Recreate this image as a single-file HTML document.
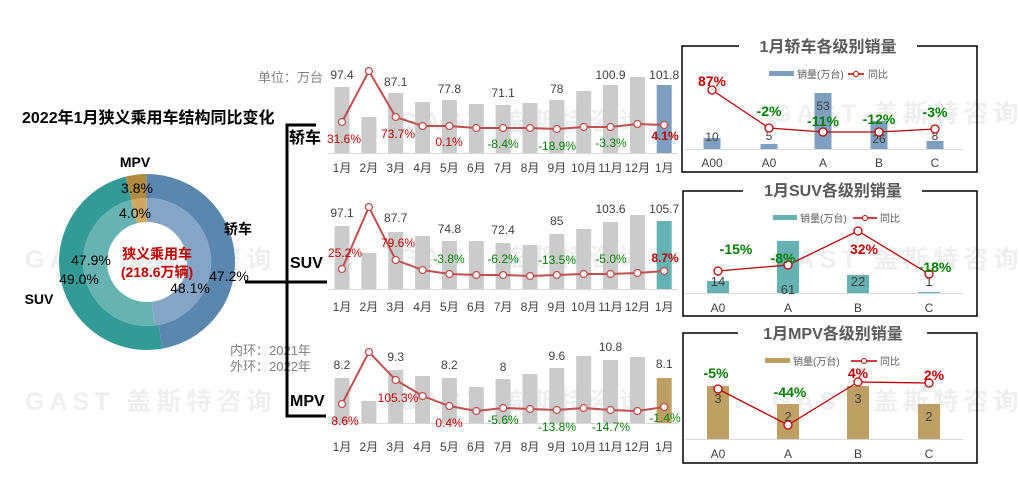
<!DOCTYPE html>
<html><head><meta charset="utf-8"><style>
body{margin:0;background:#fff;width:1019px;height:504px;overflow:hidden}
svg{display:block;font-family:"Liberation Sans","Noto Sans CJK SC",sans-serif}
.m{font-size:12px;fill:#404040;text-anchor:middle}
.v{font-size:12px;fill:#404040;text-anchor:middle}
.r{font-size:12px;fill:#c00000;text-anchor:middle}
.g{font-size:12px;fill:#008000;text-anchor:middle}
.b{fill:#cbcbcb}
.ln{fill:none;stroke:#c0504d;stroke-width:2}
.mk{fill:#fff;stroke:#c0504d;stroke-width:1.3}
.wm{font-size:25px;font-weight:bold;fill:#efefef;letter-spacing:5px}
.t{font-size:16px;font-weight:bold;fill:#595959;text-anchor:middle}
.lg{font-size:10px;fill:#595959}
.rr{font-size:14px;font-weight:bold;fill:#c00000;text-anchor:middle}
.rg{font-size:14px;font-weight:bold;fill:#008000;text-anchor:middle}
.c{font-size:12px;fill:#404040;text-anchor:middle}
.cv{font-size:13px;fill:#404040;text-anchor:middle}
</style></head><body>
<svg width="1019" height="504" viewBox="0 0 1019 504">
<!-- watermarks -->
<text class="wm" x="25" y="268">GAST 盖斯特咨询</text>
<text class="wm" x="25" y="410">GAST 盖斯特咨询</text>
<text class="wm" x="398" y="130">GAST 盖斯特咨询</text>
<text class="wm" x="398" y="266">GAST 盖斯特咨询</text>
<text class="wm" x="398" y="410">GAST 盖斯特咨询</text>
<text class="wm" x="772" y="122">GAST 盖斯特咨询</text>
<text class="wm" x="772" y="268">GAST 盖斯特咨询</text>
<text class="wm" x="772" y="410">GAST 盖斯特咨询</text>

<!-- left title -->
<text x="22" y="123" font-size="16" font-weight="bold" fill="#000">2022年1月狭义乘用车结构同比变化</text>

<!-- donut -->
<g transform="rotate(-90 147 262)">
<circle cx="147" cy="262" r="76" fill="none" stroke="#5b86ae" stroke-width="24" pathLength="100" stroke-dasharray="47.2 52.8"/>
<circle cx="147" cy="262" r="76" fill="none" stroke="#339a96" stroke-width="24" pathLength="100" stroke-dasharray="0 47.2 49 3.8"/>
<circle cx="147" cy="262" r="76" fill="none" stroke="#b08a3e" stroke-width="24" pathLength="100" stroke-dasharray="0 96.2 3.8 0"/>
<circle cx="147" cy="262" r="52" fill="none" stroke="#84a5c5" stroke-width="24" pathLength="100" stroke-dasharray="48.1 51.9"/>
<circle cx="147" cy="262" r="52" fill="none" stroke="#66b3b1" stroke-width="24" pathLength="100" stroke-dasharray="0 48.1 47.9 4"/>
<circle cx="147" cy="262" r="52" fill="none" stroke="#cfa962" stroke-width="24" pathLength="100" stroke-dasharray="0 96 4 0"/>
</g>
<g font-size="14" fill="#000" text-anchor="middle">
<text x="135" y="167" font-weight="bold">MPV</text>
<text x="137" y="193">3.8%</text>
<text x="135" y="218">4.0%</text>
<text x="238" y="234" font-weight="bold">轿车</text>
<text x="91" y="265">47.9%</text>
<text x="79" y="284">49.0%</text>
<text x="39" y="304" font-weight="bold">SUV</text>
<text x="229" y="281">47.2%</text>
<text x="190" y="293">48.1%</text>
</g>
<text x="157" y="259" font-size="14" font-weight="bold" fill="#c00000" text-anchor="middle">狭义乘用车</text>
<text x="157" y="277" font-size="14" font-weight="bold" fill="#c00000" text-anchor="middle">(218.6万辆)</text>
<text x="230" y="355" font-size="13" fill="#808080">内环：2021年</text>
<text x="230" y="371" font-size="13" fill="#808080">外环：2022年</text>

<!-- bracket -->
<g stroke="#000" stroke-width="3" fill="none">
<path d="M316 125 H287 V416 H326"/>
<path d="M245 282 H327"/>
</g>
<g font-size="16" font-weight="bold" fill="#000">
<text x="289" y="143">轿车</text>
<text x="290" y="268">SUV</text>
<text x="290" y="406">MPV</text>
</g>
<text x="258" y="82" font-size="13" fill="#808080">单位：万台</text>

<!-- sedan chart -->
<g>
<rect class="b" x="334.5" y="87" width="15" height="66"/>
<rect class="b" x="361.4" y="117" width="15" height="36"/>
<rect class="b" x="388.2" y="93" width="15" height="60"/>
<rect class="b" x="415.1" y="102" width="15" height="51"/>
<rect class="b" x="441.9" y="100" width="15" height="53"/>
<rect class="b" x="468.8" y="104" width="15" height="49"/>
<rect class="b" x="495.6" y="105" width="15" height="48"/>
<rect class="b" x="522.5" y="103" width="15" height="50"/>
<rect class="b" x="549.3" y="100" width="15" height="53"/>
<rect class="b" x="576.2" y="91" width="15" height="62"/>
<rect class="b" x="603" y="85" width="15" height="68"/>
<rect class="b" x="629.9" y="77" width="15" height="76"/>
<rect x="656.7" y="85" width="15" height="68" fill="#7f9fc0"/>
<line x1="328" y1="153.5" x2="678" y2="153.5" stroke="#d9d9d9"/>
<polyline class="ln" points="342,122 368.9,71 395.7,117 422.6,126 449.4,126 476.3,128 503.1,128 530,128 556.8,129 583.7,127 610.5,127 637.4,124 664.2,125"/>
<g class="mk"><circle cx="342" cy="122" r="3.5"/><circle cx="368.9" cy="71" r="3.5"/><circle cx="395.7" cy="117" r="3.5"/><circle cx="422.6" cy="126" r="3.5"/><circle cx="449.4" cy="126" r="3.5"/><circle cx="476.3" cy="128" r="3.5"/><circle cx="503.1" cy="128" r="3.5"/><circle cx="530" cy="128" r="3.5"/><circle cx="556.8" cy="129" r="3.5"/><circle cx="583.7" cy="127" r="3.5"/><circle cx="610.5" cy="127" r="3.5"/><circle cx="637.4" cy="124" r="3.5"/><circle cx="664.2" cy="125" r="3.5"/></g>
<text class="v" x="342" y="79">97.4</text><text class="v" x="395.7" y="86">87.1</text><text class="v" x="449.4" y="93">77.8</text><text class="v" x="503.1" y="97">71.1</text><text class="v" x="556.8" y="93">78</text><text class="v" x="610.5" y="79">100.9</text><text class="v" x="664.2" y="79">101.8</text>
<text class="r" x="344" y="143">31.6%</text><text class="r" x="398" y="138">73.7%</text><text class="r" x="449" y="146">0.1%</text><text class="g" x="503" y="148">-8.4%</text><text class="g" x="557" y="150">-18.9%</text><text class="g" x="611" y="147">-3.3%</text><text class="r" x="665" y="140" font-weight="bold">4.1%</text>
<g class="m"><text x="342" y="172">1月</text><text x="368.9" y="172">2月</text><text x="395.7" y="172">3月</text><text x="422.6" y="172">4月</text><text x="449.4" y="172">5月</text><text x="476.3" y="172">6月</text><text x="503.1" y="172">7月</text><text x="530" y="172">8月</text><text x="556.8" y="172">9月</text><text x="583.7" y="172">10月</text><text x="610.5" y="172">11月</text><text x="637.4" y="172">12月</text><text x="664.2" y="172">1月</text></g>
</g>

<!-- SUV chart -->
<g>
<rect class="b" x="334.5" y="226" width="15" height="63"/>
<rect class="b" x="361.4" y="253" width="15" height="36"/>
<rect class="b" x="388.2" y="232" width="15" height="57"/>
<rect class="b" x="415.1" y="236" width="15" height="53"/>
<rect class="b" x="441.9" y="241" width="15" height="48"/>
<rect class="b" x="468.8" y="241" width="15" height="48"/>
<rect class="b" x="495.6" y="243" width="15" height="46"/>
<rect class="b" x="522.5" y="245" width="15" height="44"/>
<rect class="b" x="549.3" y="234" width="15" height="55"/>
<rect class="b" x="576.2" y="229" width="15" height="60"/>
<rect class="b" x="603" y="222" width="15" height="67"/>
<rect class="b" x="629.9" y="215" width="15" height="74"/>
<rect x="656.7" y="221" width="15" height="68" fill="#66b2b2"/>
<line x1="328" y1="289.5" x2="678" y2="289.5" stroke="#d9d9d9"/>
<polyline class="ln" points="342,269 368.9,207 395.7,260 422.6,270 449.4,274 476.3,275 503.1,275 530,276 556.8,275 583.7,274 610.5,274 637.4,273 664.2,271"/>
<g class="mk"><circle cx="342" cy="269" r="3.5"/><circle cx="368.9" cy="207" r="3.5"/><circle cx="395.7" cy="260" r="3.5"/><circle cx="422.6" cy="270" r="3.5"/><circle cx="449.4" cy="274" r="3.5"/><circle cx="476.3" cy="275" r="3.5"/><circle cx="503.1" cy="275" r="3.5"/><circle cx="530" cy="276" r="3.5"/><circle cx="556.8" cy="275" r="3.5"/><circle cx="583.7" cy="274" r="3.5"/><circle cx="610.5" cy="274" r="3.5"/><circle cx="637.4" cy="273" r="3.5"/><circle cx="664.2" cy="271" r="3.5"/></g>
<text class="v" x="342" y="217">97.1</text><text class="v" x="395.7" y="222">87.7</text><text class="v" x="449.4" y="233">74.8</text><text class="v" x="503.1" y="234">72.4</text><text class="v" x="556.8" y="225">85</text><text class="v" x="610.5" y="213">103.6</text><text class="v" x="664.2" y="213">105.7</text>
<text class="r" x="345" y="257">25.2%</text><text class="r" x="398" y="247">79.6%</text><text class="g" x="449" y="263">-3.8%</text><text class="g" x="503" y="263">-6.2%</text><text class="g" x="557" y="264">-13.5%</text><text class="g" x="611" y="263">-5.0%</text><text class="r" x="665" y="262" font-weight="bold">8.7%</text>
<g class="m"><text x="342" y="311">1月</text><text x="368.9" y="311">2月</text><text x="395.7" y="311">3月</text><text x="422.6" y="311">4月</text><text x="449.4" y="311">5月</text><text x="476.3" y="311">6月</text><text x="503.1" y="311">7月</text><text x="530" y="311">8月</text><text x="556.8" y="311">9月</text><text x="583.7" y="311">10月</text><text x="610.5" y="311">11月</text><text x="637.4" y="311">12月</text><text x="664.2" y="311">1月</text></g>
</g>

<!-- MPV chart -->
<g>
<rect class="b" x="334.5" y="378" width="15" height="45"/>
<rect class="b" x="361.4" y="401" width="15" height="22"/>
<rect class="b" x="388.2" y="370" width="15" height="53"/>
<rect class="b" x="415.1" y="376" width="15" height="47"/>
<rect class="b" x="441.9" y="378" width="15" height="45"/>
<rect class="b" x="468.8" y="387" width="15" height="36"/>
<rect class="b" x="495.6" y="379" width="15" height="44"/>
<rect class="b" x="522.5" y="374" width="15" height="49"/>
<rect class="b" x="549.3" y="368" width="15" height="55"/>
<rect class="b" x="576.2" y="356" width="15" height="67"/>
<rect class="b" x="603" y="360" width="15" height="63"/>
<rect class="b" x="629.9" y="357" width="15" height="66"/>
<rect x="656.7" y="378" width="15" height="45" fill="#bfa064"/>
<line x1="328" y1="423.5" x2="678" y2="423.5" stroke="#d9d9d9"/>
<polyline class="ln" points="342,404 368.9,352 395.7,380 422.6,396 449.4,406 476.3,411 503.1,408 530,409 556.8,410 583.7,408 610.5,410 637.4,411 664.2,407"/>
<g class="mk"><circle cx="342" cy="404" r="3.5"/><circle cx="368.9" cy="352" r="3.5"/><circle cx="395.7" cy="380" r="3.5"/><circle cx="422.6" cy="396" r="3.5"/><circle cx="449.4" cy="406" r="3.5"/><circle cx="476.3" cy="411" r="3.5"/><circle cx="503.1" cy="408" r="3.5"/><circle cx="530" cy="409" r="3.5"/><circle cx="556.8" cy="410" r="3.5"/><circle cx="583.7" cy="408" r="3.5"/><circle cx="610.5" cy="410" r="3.5"/><circle cx="637.4" cy="411" r="3.5"/><circle cx="664.2" cy="407" r="3.5"/></g>
<text class="v" x="342" y="369">8.2</text><text class="v" x="395.7" y="361">9.3</text><text class="v" x="449.4" y="369">8.2</text><text class="v" x="503.1" y="371">8</text><text class="v" x="556.8" y="360">9.6</text><text class="v" x="610.5" y="351">10.8</text><text class="v" x="664.2" y="368">8.1</text>
<text class="r" x="345" y="425">8.6%</text><text class="r" x="398" y="402">105.3%</text><text class="r" x="449" y="427">0.4%</text><text class="g" x="503" y="424">-5.6%</text><text class="g" x="557" y="431">-13.8%</text><text class="g" x="611" y="431">-14.7%</text><text class="g" x="665" y="422">-1.4%</text>
<g class="m"><text x="342" y="451">1月</text><text x="368.9" y="451">2月</text><text x="395.7" y="451">3月</text><text x="422.6" y="451">4月</text><text x="449.4" y="451">5月</text><text x="476.3" y="451">6月</text><text x="503.1" y="451">7月</text><text x="530" y="451">8月</text><text x="556.8" y="451">9月</text><text x="583.7" y="451">10月</text><text x="610.5" y="451">11月</text><text x="637.4" y="451">12月</text><text x="664.2" y="451">1月</text></g>
</g>

<!-- Panel 1 -->
<g>
<path d="M739 46 H682 V172 H977 V46 H917" fill="none" stroke="#000" stroke-width="1.5"/>
<text class="t" x="828" y="52">1月轿车各级别销量</text>
<rect x="769" y="71" width="25" height="5" fill="#7f9fc0"/><text class="lg" x="797" y="78">销量(万台)</text>
<line x1="848" y1="74" x2="864" y2="74" stroke="#c00000" stroke-width="1.5"/><circle cx="856" cy="74" r="2.5" fill="#fff" stroke="#c00000"/><text class="lg" x="868" y="78">同比</text>
<line x1="685" y1="149.5" x2="963" y2="149.5" stroke="#d9d9d9"/>
<rect x="703.5" y="138" width="17" height="11" fill="#7f9fc0"/>
<rect x="760.5" y="144" width="17" height="5" fill="#7f9fc0"/>
<rect x="814.5" y="93" width="17" height="56" fill="#7f9fc0"/>
<rect x="870.5" y="121" width="17" height="28" fill="#7f9fc0"/>
<rect x="926.5" y="141" width="17" height="8" fill="#7f9fc0"/>
<text class="c" x="712" y="141">10</text><text class="c" x="769" y="140">5</text><text class="c" x="823" y="110">53</text><text class="c" x="879" y="143">26</text><text class="c" x="935" y="140">8</text>
<polyline points="712,90 769,128 823,132 879,132 935,129" fill="none" stroke="#c00000" stroke-width="1.3"/>
<g fill="#fff" stroke="#c00000" stroke-width="1.3"><circle cx="712" cy="90" r="4"/><circle cx="769" cy="128" r="4"/><circle cx="823" cy="132" r="4"/><circle cx="879" cy="132" r="4"/><circle cx="935" cy="129" r="4"/></g>
<text class="rr" x="712" y="86">87%</text><text class="rg" x="769" y="116">-2%</text><text class="rg" x="823" y="126">-11%</text><text class="rg" x="879" y="124">-12%</text><text class="rg" x="935" y="117">-3%</text>
<g class="c"><text x="712" y="167">A00</text><text x="769" y="167">A0</text><text x="823" y="167">A</text><text x="879" y="167">B</text><text x="935" y="167">C</text></g>
</g>

<!-- Panel 2 -->
<g>
<path d="M743 191 H683 V316 H977 V191 H922" fill="none" stroke="#000" stroke-width="1.5"/>
<text class="t" x="833" y="196">1月SUV各级别销量</text>
<rect x="773" y="215" width="24" height="5" fill="#66b2b2"/><text class="lg" x="800" y="222">销量(万台)</text>
<line x1="853" y1="218" x2="877" y2="218" stroke="#c00000" stroke-width="1.5"/><circle cx="865" cy="218" r="2.5" fill="#fff" stroke="#c00000"/><text class="lg" x="880" y="222">同比</text>
<line x1="685" y1="293.5" x2="963" y2="293.5" stroke="#d9d9d9"/>
<rect x="707" y="281" width="22" height="12" fill="#66b2b2"/>
<rect x="777" y="241" width="22" height="52" fill="#66b2b2"/>
<rect x="847" y="275" width="22" height="18" fill="#66b2b2"/>
<rect x="918" y="292" width="22" height="1" fill="#66b2b2"/>
<text class="cv" x="718" y="286">14</text><text class="cv" x="788" y="294">61</text><text class="cv" x="858" y="286">22</text><text class="cv" x="929" y="286">1</text>
<polyline points="718,271 788,265 858,231 929,274" fill="none" stroke="#c00000" stroke-width="1.3"/>
<g fill="#fff" stroke="#c00000" stroke-width="1.3"><circle cx="718" cy="271" r="4"/><circle cx="788" cy="265" r="4"/><circle cx="858" cy="231" r="4"/><circle cx="929" cy="274" r="4"/></g>
<text class="rg" x="736" y="254">-15%</text><text class="rg" x="783" y="263">-8%</text><text class="rr" x="864" y="254">32%</text><text class="rg" x="935" y="272">-18%</text>
<g class="c"><text x="718" y="312">A0</text><text x="788" y="312">A</text><text x="858" y="312">B</text><text x="929" y="312">C</text></g>
</g>

<!-- Panel 3 -->
<g>
<path d="M738 333 H683 V463 H977 V333 H927" fill="none" stroke="#000" stroke-width="1.5"/>
<text class="t" x="833" y="339">1月MPV各级别销量</text>
<rect x="765" y="358" width="25" height="5" fill="#bfa064"/><text class="lg" x="793" y="365">销量(万台)</text>
<line x1="851" y1="361" x2="877" y2="361" stroke="#c00000" stroke-width="1.5"/><circle cx="864" cy="361" r="2.5" fill="#fff" stroke="#c00000"/><text class="lg" x="880" y="365">同比</text>
<line x1="685" y1="439.5" x2="963" y2="439.5" stroke="#d9d9d9"/>
<rect x="707" y="386" width="22" height="53" fill="#bfa064"/>
<rect x="777" y="404" width="22" height="35" fill="#bfa064"/>
<rect x="847" y="386" width="22" height="53" fill="#bfa064"/>
<rect x="918" y="404" width="22" height="35" fill="#bfa064"/>
<text class="cv" x="718" y="403">3</text><text class="cv" x="788" y="421">2</text><text class="cv" x="858" y="403">3</text><text class="cv" x="929" y="421">2</text>
<polyline points="718,389 788,425 858,382 929,383" fill="none" stroke="#c00000" stroke-width="1.3"/>
<g fill="#fff" stroke="#c00000" stroke-width="1.3"><circle cx="718" cy="389" r="4"/><circle cx="788" cy="425" r="4"/><circle cx="858" cy="382" r="4"/><circle cx="929" cy="383" r="4"/></g>
<text class="rg" x="716" y="378">-5%</text><text class="rg" x="790" y="397">-44%</text><text class="rr" x="858" y="378">4%</text><text class="rr" x="934" y="380">2%</text>
<g class="c"><text x="718" y="458">A0</text><text x="788" y="458">A</text><text x="858" y="458">B</text><text x="929" y="458">C</text></g>
</g>
</svg>
</body></html>
